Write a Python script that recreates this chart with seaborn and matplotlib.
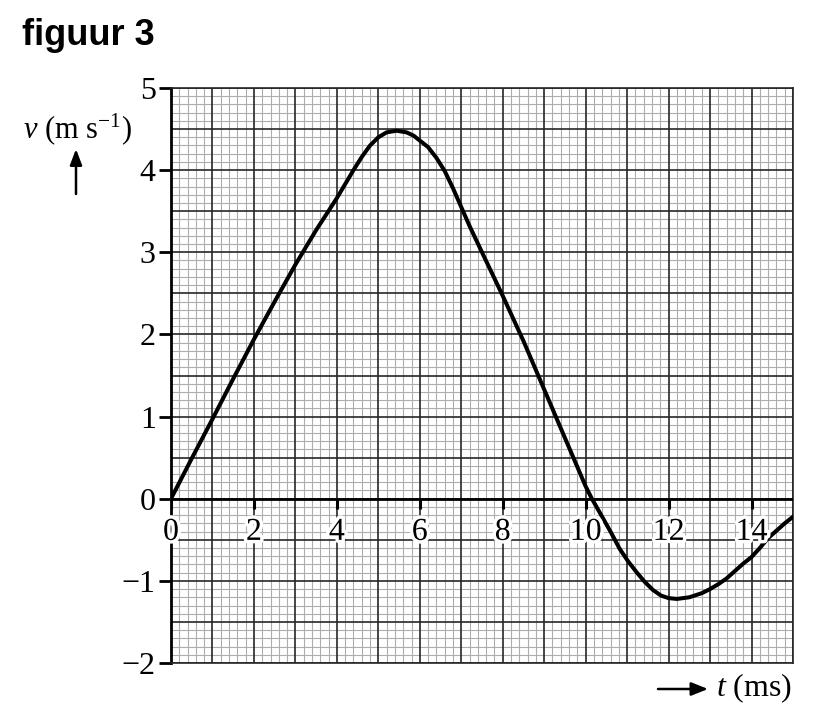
import numpy as np
import pandas as pd
import matplotlib
matplotlib.use("Agg")
import matplotlib.pyplot as plt
import matplotlib.patheffects as pe
from matplotlib.patches import FancyArrowPatch
import seaborn as sns

# values
t_ms = [0.0, 0.5, 1.0, 1.5, 2.0, 2.5, 3.0, 3.5, 4.0, 4.2, 4.4, 4.6, 4.8, 5.0, 5.2,
        5.44, 5.68, 5.85, 6.0, 6.2, 6.4, 6.6, 6.8, 7.0, 7.2, 7.5, 8.0, 8.5, 9.0, 9.5,
        10.0, 10.15, 10.42, 10.62, 10.82, 11.02, 11.22, 11.42, 11.62, 11.82, 12.0,
        12.2, 12.5, 12.8, 13.0, 13.2, 13.4, 13.6, 13.8, 14.0, 14.2, 14.4, 14.6,
        14.8, 15.0]
v_ms = [0.0, 0.49, 0.97, 1.46, 1.94, 2.40, 2.85, 3.27, 3.66, 3.83, 4.00, 4.16, 4.30, 4.40, 4.46,
        4.48, 4.46, 4.42, 4.36, 4.28, 4.15, 3.99, 3.78, 3.55, 3.32, 3.00, 2.47, 1.92, 1.33, 0.74,
        0.15, 0.0, -0.24, -0.42, -0.61, -0.76, -0.89, -1.01, -1.11, -1.18, -1.21,
        -1.22, -1.20, -1.15, -1.10, -1.04, -0.97, -0.88, -0.79, -0.71, -0.60, -0.48, -0.39,
        -0.30, -0.22]
x_ticks = [0, 2, 4, 6, 8, 10, 12, 14]
y_ticks = [-2, -1, 0, 1, 2, 3, 4, 5]
y_tick_labels = ["\u22122", "\u22121", "0", "1", "2", "3", "4", "5"]

df = pd.DataFrame({"t": t_ms, "v": v_ms})

sns.set_style("white")
plt.rcParams["font.family"] = ["Liberation Serif", "DejaVu Serif"]
plt.rcParams["mathtext.fontset"] = "custom"
plt.rcParams["mathtext.it"] = "Liberation Serif:italic"
plt.rcParams["mathtext.rm"] = "Liberation Serif"
plt.rcParams["text.color"] = "black"
plt.rcParams["ytick.color"] = "black"

fig = plt.figure(figsize=(8.18, 7.24), dpi=100)
ax = fig.add_axes([171/818, 1-663/724, (793-171)/818, (663-88)/724])

ax.set_xlim(0, 15)
ax.set_ylim(-2, 5)

minor_c = "#adadad"
major_c = "#262626"
# grid
for x in np.arange(0, 15.001, 0.2):
    if abs(x - round(x)) < 1e-6:
        continue
    ax.axvline(x, color=minor_c, lw=0.8, zorder=1)
for y in np.arange(-2, 5.001, 0.1):
    if abs(y*2 - round(y*2)) < 1e-6:
        continue
    ax.axhline(y, color=minor_c, lw=0.8, zorder=1)
for x in range(1, 16):
    ax.axvline(x, color=major_c, lw=1.2, zorder=2)
for y in np.arange(-2, 5.001, 0.5):
    ax.axhline(y, color=major_c, lw=1.2, zorder=2)
ax.axhline(0, color="black", lw=2.0, zorder=3)
ax.vlines(x_ticks, -0.13, 0, color="black", lw=2.2, zorder=3)

for s in ax.spines.values():
    s.set_color(major_c)
    s.set_linewidth(1.2)
ax.spines["left"].set_color("black")
ax.spines["left"].set_linewidth(2.0)

sns.lineplot(data=df, x="t", y="v", ax=ax, color="black", lw=2.9, zorder=5,
             solid_joinstyle="round", solid_capstyle="round")

ax.set_xlabel("")
ax.set_ylabel("")
ax.set_xticks([])
ax.set_yticks(y_ticks)
ax.set_yticklabels(y_tick_labels, fontsize=23)
ax.tick_params(axis="y", length=9, width=2.0, pad=2, direction="out", left=True,
               colors="black")

for xt in x_ticks:
    ax.text(xt, -0.41, str(xt), ha="center", va="center", fontsize=23, zorder=6,
            color="black",
            path_effects=[pe.withStroke(linewidth=5, foreground="white")])

fig.text(22/818, 1-45/724, "figuur 3", fontsize=26, fontweight="bold", color="black",
         family=["Liberation Sans", "DejaVu Sans"], ha="left", va="baseline")
fig.text(78/818, 1-138/724, r"$v$ (m s$^{-1}$)", fontsize=22,
         ha="center", va="baseline")
fig.patches.append(FancyArrowPatch(
    (76/818, 1-194/724), (76/818, 1-149/724), transform=fig.transFigure,
    arrowstyle="-|>,head_length=9.5,head_width=3.6", color="black", lw=1.8,
    mutation_scale=1, shrinkA=0, shrinkB=0))
fig.patches.append(FancyArrowPatch(
    (658/818, 1-689/724), (708/818, 1-689/724), transform=fig.transFigure,
    arrowstyle="-|>,head_length=10,head_width=4", color="black", lw=1.8,
    mutation_scale=1, shrinkA=0, shrinkB=0))
fig.text(716/818, 1-696/724, r"$t$ (ms)", fontsize=23, ha="left", va="baseline")

fig.savefig("out.png", dpi=100)
